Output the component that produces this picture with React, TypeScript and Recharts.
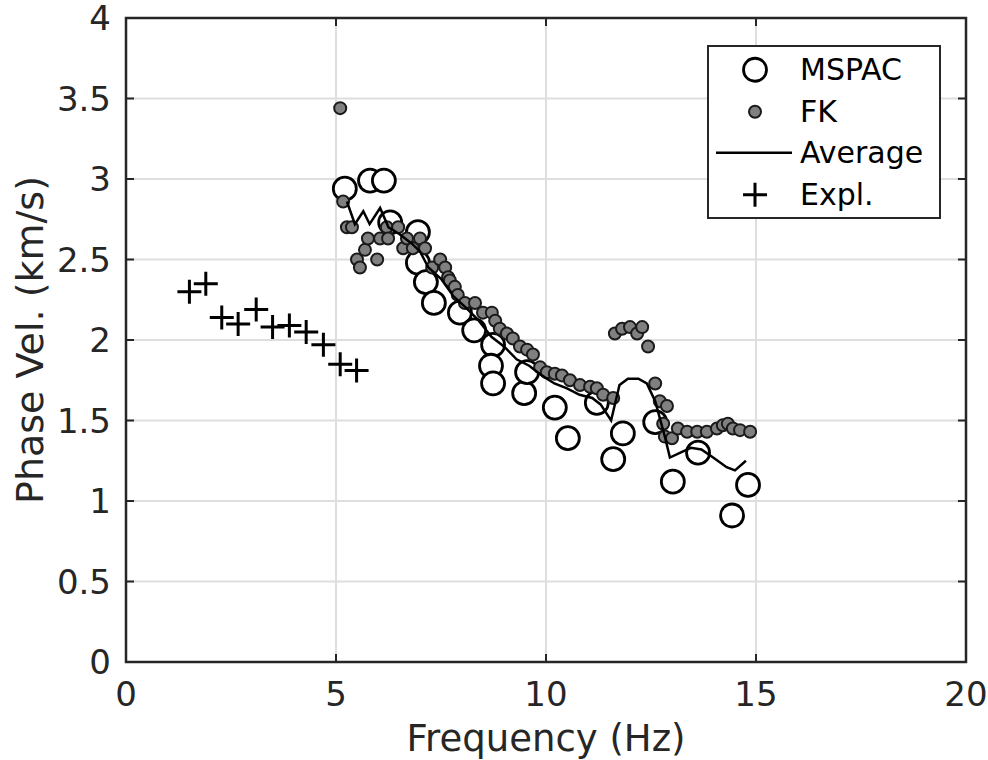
import React from 'react';
import {
  ComposedChart,
  Scatter,
  XAxis,
  YAxis,
  CartesianGrid,
  ReferenceArea,
} from 'recharts';

// MSPAC estimates (open circles)
const mspacFreq = [5.21, 5.81, 6.14, 6.29, 6.95, 6.95, 7.14, 7.33, 7.95, 8.29, 8.74, 8.69, 8.74, 9.48, 9.55, 10.21, 10.52, 11.21, 11.6, 11.83, 12.6, 13.02, 13.62, 14.43, 14.81];
const mspacVel = [2.94, 2.99, 2.99, 2.73, 2.67, 2.48, 2.36, 2.23, 2.17, 2.06, 1.97, 1.84, 1.73, 1.67, 1.8, 1.58, 1.39, 1.61, 1.26, 1.42, 1.49, 1.12, 1.3, 0.91, 1.1];

// FK estimates (grey dots)
const fkFreq = [5.1, 5.17, 5.26, 5.38, 5.5, 5.57, 5.69, 5.76, 5.98, 6.05, 6.21, 6.24, 6.48, 6.6, 6.69, 6.83, 7.0, 7.12, 7.29, 7.48, 7.6, 7.67, 7.71, 7.83, 7.9, 8.07, 8.31, 8.5, 8.71, 8.79, 8.9, 9.07, 9.21, 9.38, 9.55, 9.69, 9.86, 10.02, 10.21, 10.38, 10.57, 10.81, 11.05, 11.21, 11.36, 11.6, 11.64, 11.81, 12.0, 12.17, 12.29, 12.43, 12.6, 12.71, 12.88, 12.79, 12.83, 13.0, 13.14, 13.36, 13.6, 13.83, 14.07, 14.21, 14.33, 14.45, 14.62, 14.86];
const fkVel = [3.44, 2.86, 2.7, 2.7, 2.5, 2.45, 2.56, 2.63, 2.5, 2.63, 2.7, 2.63, 2.7, 2.57, 2.63, 2.57, 2.63, 2.57, 2.45, 2.5, 2.45, 2.39, 2.37, 2.33, 2.28, 2.23, 2.23, 2.17, 2.17, 2.12, 2.07, 2.04, 2.01, 1.96, 1.94, 1.91, 1.83, 1.8, 1.79, 1.78, 1.75, 1.72, 1.71, 1.7, 1.66, 1.64, 2.04, 2.07, 2.08, 2.04, 2.08, 1.96, 1.73, 1.62, 1.59, 1.48, 1.4, 1.39, 1.45, 1.43, 1.43, 1.43, 1.45, 1.47, 1.48, 1.45, 1.44, 1.43];

// Average curve
const avgFreq = [5.26, 5.45, 5.65, 5.8, 6.05, 6.25, 6.5, 6.8, 7.0, 7.2, 7.5, 7.8, 8.1, 8.4, 8.7, 9.0, 9.3, 9.6, 9.9, 10.2, 10.5, 10.8, 11.1, 11.3, 11.55, 11.75, 11.95, 12.2, 12.4, 12.6, 12.83, 12.95, 13.2, 13.45, 13.7, 13.98, 14.3, 14.5, 14.76];
const avgVel = [2.86, 2.72, 2.8, 2.72, 2.82, 2.7, 2.66, 2.6, 2.55, 2.45, 2.38, 2.27, 2.2, 2.12, 2.02, 1.96, 1.88, 1.84, 1.78, 1.73, 1.7, 1.66, 1.64, 1.6, 1.5, 1.72, 1.76, 1.76, 1.73, 1.62, 1.4, 1.27, 1.3, 1.33, 1.32, 1.27, 1.21, 1.19, 1.25];

// Explosion (crosses)
const explFreq = [1.51, 1.9, 2.28, 2.67, 3.1, 3.49, 3.89, 4.29, 4.7, 5.1, 5.49];
const explVel = [2.3, 2.35, 2.14, 2.1, 2.19, 2.08, 2.09, 2.05, 1.97, 1.85, 1.81];

const xTicks = [0, 5, 10, 15, 20];
const yTicks = [0, 0.5, 1, 1.5, 2, 2.5, 3, 3.5, 4];

const zip = (xs: number[], ys: number[]) => xs.map((x, i) => ({ x, y: ys[i] }));
const mspacData = zip(mspacFreq, mspacVel);
const fkData = zip(fkFreq, fkVel);
const avgData = zip(avgFreq, avgVel);
const explData = zip(explFreq, explVel);

const FONT = '"DejaVu Sans", sans-serif';
const TEXT = '#262626';
const PLOT_H = 644;
const PLOT_W = 840;

const OpenCircle = (p: any) => (
  <circle cx={p.cx} cy={p.cy} r={11.5} fill="#fff" stroke="#000" strokeWidth={2.8} />
);
const GreyDot = (p: any) => (
  <circle cx={p.cx} cy={p.cy} r={6} fill="#808080" stroke="#1a1a1a" strokeWidth={2} />
);
const Cross = (p: any) => (
  <path
    d={`M${p.cx - 12},${p.cy}H${p.cx + 12}M${p.cx},${p.cy - 12}V${p.cy + 12}`}
    stroke="#000"
    strokeWidth={3}
    fill="none"
  />
);
const NoShape = () => <g />;

// ticks drawn inside the box, like MATLAB
const XTick = ({ x, y, payload }: any) => {
  const axisY = y - 20;
  return (
    <g>
      <line x1={x} y1={axisY} x2={x} y2={axisY - 8} stroke={TEXT} strokeWidth={2} />
      <line x1={x} y1={axisY - PLOT_H} x2={x} y2={axisY - PLOT_H + 8} stroke={TEXT} strokeWidth={2} />
      <text x={x} y={y} dy="0.71em" textAnchor="middle" fontSize={34} fill={TEXT} fontFamily={FONT}>
        {payload.value}
      </text>
    </g>
  );
};

const YTick = ({ x, y, payload }: any) => {
  const axisX = x + 15;
  return (
    <g>
      <line x1={axisX} y1={y} x2={axisX + 8} y2={y} stroke={TEXT} strokeWidth={2} />
      <line x1={axisX + PLOT_W} y1={y} x2={axisX + PLOT_W - 8} y2={y} stroke={TEXT} strokeWidth={2} />
      <text x={x} y={y} dy="0.36em" textAnchor="end" fontSize={34} fill={TEXT} fontFamily={FONT}>
        {payload.value}
      </text>
    </g>
  );
};

const YLabel = ({ viewBox }: any) => {
  const cx = viewBox.x + 22;
  const cy = viewBox.y + viewBox.height / 2;
  return (
    <text
      x={cx}
      y={cy}
      transform={`rotate(-90, ${cx}, ${cy})`}
      textAnchor="middle"
      dominantBaseline="central"
      fontSize={38}
      fill={TEXT}
      fontFamily={FONT}
    >
      Phase Vel. (km/s)
    </text>
  );
};

const XLabel = ({ viewBox }: any) => (
  <text
    x={viewBox.x + viewBox.width / 2}
    y={viewBox.y + 89}
    textAnchor="middle"
    fontSize={37}
    fill={TEXT}
    fontFamily={FONT}
  >
    Frequency (Hz)
  </text>
);

const legendRows = [
  { name: 'MSPAC', kind: 'circle' },
  { name: 'FK', kind: 'dot' },
  { name: 'Average', kind: 'line' },
  { name: 'Expl.', kind: 'cross' },
];

function LegendBox() {
  return (
    <div
      style={{
        position: 'absolute',
        left: 707,
        top: 45,
        width: 230,
        height: 168,
        border: `2.5px solid ${TEXT}`,
        background: '#fff',
        paddingTop: 2,
        fontFamily: FONT,
        fontSize: 30,
        color: '#000',
        boxSizing: 'content-box',
      }}
    >
      {legendRows.map((r) => (
        <div key={r.name} style={{ display: 'flex', alignItems: 'center', height: 41.5 }}>
          <svg width={91} height={41.5} style={{ flex: 'none' }}>
            {r.kind === 'circle' && <OpenCircle cx={46} cy={20.75} />}
            {r.kind === 'dot' && <GreyDot cx={46} cy={20.75} />}
            {r.kind === 'line' && <line x1={7} y1={20.75} x2={83} y2={20.75} stroke="#000" strokeWidth={2.5} />}
            {r.kind === 'cross' && <Cross cx={46} cy={20.75} />}
          </svg>
          <span style={{ lineHeight: '41.5px' }}>{r.name}</span>
        </div>
      ))}
    </div>
  );
}

export default function App() {
  return (
    <div style={{ position: 'relative', width: 988, height: 760, background: '#fff' }}>
      <style>{'body { margin: 0; overflow: hidden; }'}</style>
      <ComposedChart width={988} height={760} margin={{ top: 18, right: 22, bottom: 0, left: 8 }}>
        <CartesianGrid stroke="#dedede" strokeWidth={2} />
        <XAxis
          type="number"
          dataKey="x"
          domain={[0, 20]}
          ticks={xTicks}
          allowDataOverflow
          height={98}
          axisLine={false}
          tickLine={false}
          tickSize={0}
          tickMargin={20}
          tick={<XTick />}
          interval={0}
          label={<XLabel />}
        />
        <YAxis
          type="number"
          dataKey="y"
          domain={[0, 4]}
          ticks={yTicks}
          allowDataOverflow
          width={118}
          axisLine={false}
          tickLine={false}
          tickSize={0}
          tickMargin={15}
          tick={<YTick />}
          interval={0}
          label={<YLabel />}
        />
        <Scatter name="MSPAC" data={mspacData} shape={OpenCircle} isAnimationActive={false} />
        <Scatter name="FK" data={fkData} shape={GreyDot} isAnimationActive={false} />
        <Scatter
          name="Average"
          data={avgData}
          shape={NoShape}
          line={{ stroke: '#000', strokeWidth: 2.5 }}
          isAnimationActive={false}
        />
        <Scatter name="Expl." data={explData} shape={Cross} isAnimationActive={false} />
        <ReferenceArea x1={0} x2={20} y1={0} y2={4} fill="none" stroke={TEXT} strokeWidth={2.5} />
      </ComposedChart>
      <LegendBox />
    </div>
  );
}
